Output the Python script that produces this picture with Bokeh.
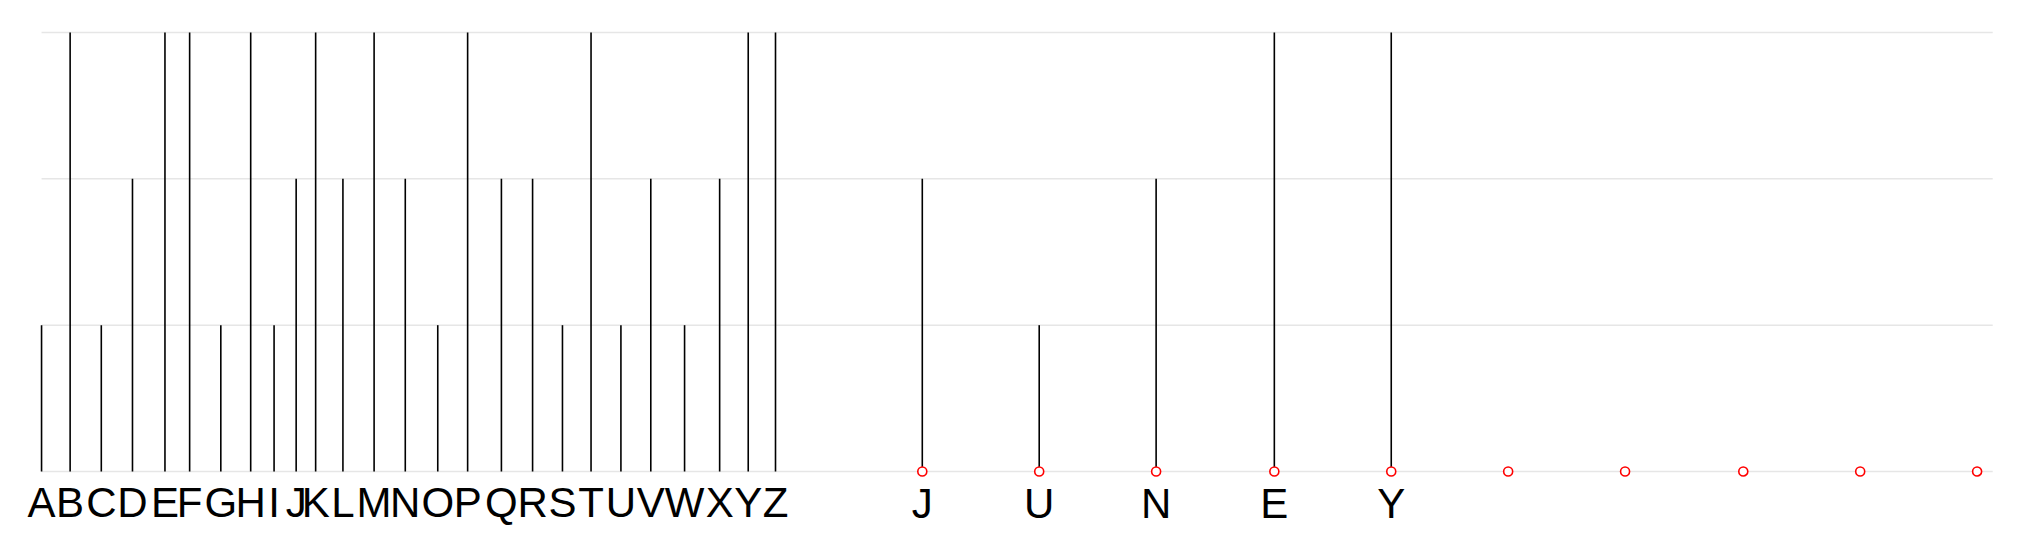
from bokeh.plotting import figure
from bokeh.models import Range1d
from bokeh.core.properties import value
from bokeh.embed import file_html
from bokeh.resources import INLINE

letters = list("ABCDEFGHIJKLMNOPQRSTUVWXYZ")
letter_x = [38, 60, 84, 108, 133, 152, 176, 199, 217, 234, 249, 270, 294,
            318, 343, 366, 392, 416, 439, 461, 484, 507, 533, 560, 582, 603]
letter_h = [1, 3, 1, 2, 3, 3, 1, 3, 1, 2, 3, 2, 3,
            2, 1, 3, 2, 2, 1, 3, 1, 2, 1, 2, 3, 3]

word = list("JUNEY")
word_h = [2, 1, 2, 3, 3]
dot_x = [716, 806, 896, 987, 1077, 1167, 1257, 1348, 1438, 1528]

grid_y = [0, 1, 2, 3]
grid_x0, grid_x1 = 38, 1540

p = figure(width=2020, height=532, output_backend="svg", toolbar_location=None,
           x_range=Range1d(6.4, 1561.4), y_range=Range1d(-0.417, 3.219),
           min_border=0, outline_line_color=None)
p.axis.visible = False
p.grid.visible = False

p.segment(x0=[grid_x0] * 4, x1=[grid_x1] * 4, y0=grid_y, y1=grid_y,
          line_color="#e6e6e6", line_width=1.5)

p.segment(x0=letter_x, x1=letter_x, y0=[0] * 26, y1=letter_h,
          line_color="black", line_width=1.6)
p.text(x=letter_x, y=[-0.05] * 26, text=letters, text_align="center",
       text_baseline="top", text_font=value("Liberation Sans"),
       text_font_size="42px", text_color="black")

wx = dot_x[:5]
p.segment(x0=wx, x1=wx, y0=[0] * 5, y1=word_h, line_color="black", line_width=1.6)
p.text(x=wx, y=[-0.06] * 5, text=word, text_align="center",
       text_baseline="top", text_font=value("Liberation Sans"),
       text_font_size="42px", text_color="black")

p.scatter(x=dot_x, y=[0] * 10, size=9, fill_color="white",
          line_color="red", line_width=1.6)

open("out.html", "w").write(file_html(p, INLINE))
